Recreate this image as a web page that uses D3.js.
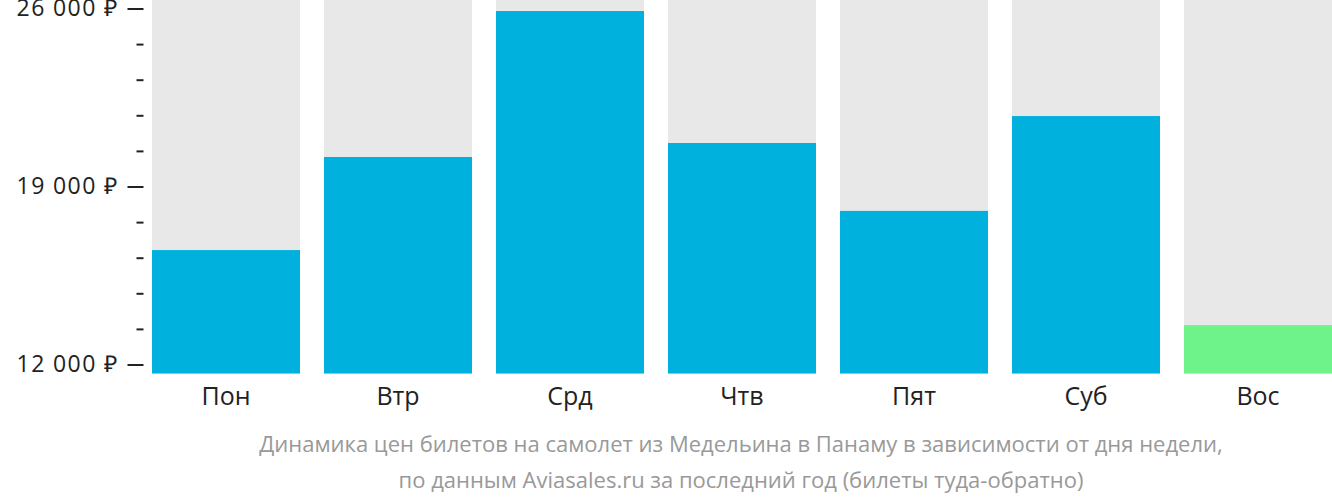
<!DOCTYPE html>
<html>
<head>
<meta charset="utf-8">
<script src="https://cdn.jsdelivr.net/npm/d3@7"></script>
<style>
  body { margin: 0; background: #fff; }
  text { font-family: "Open Sans", sans-serif; }
</style>
</head>
<body>
<script>
// Data
const days = ["Пон", "Втр", "Срд", "Чтв", "Пят", "Суб", "Вос"];
const prices = [16500, 20160, 25900, 20710, 18040, 21770, 13550];
const cheapestDay = "Вос";
const majorTicks = [12000, 19000, 26000];
const minorTicks = [13400, 14800, 16200, 17600, 20400, 21800, 23200, 24600];
const captionLines = [
    "Динамика цен билетов на самолет из Медельина в Панаму в зависимости от дня недели,",
    "по данным Aviasales.ru за последний год (билеты туда-обратно)"
];

//Sizes
const width = 1332,
    height = 502,
    plotBottom = 373.5;

const svg = d3.select("body")
    .append("svg")
    .attr("width", width)
    .attr("height", height);

//Scales
const x = d3.scaleBand()
    .domain(days)
    .range([140, 1344])
    .paddingInner(24 / 172)
    .paddingOuter(12 / 172);

const y = d3.scaleLinear()
    .domain([11646, 26334])
    .range([plotBottom, 0]);

//Grey background bars
svg.append("g")
    .selectAll("rect")
    .data(days)
    .join("rect")
    .attr("x", d => x(d))
    .attr("y", 0)
    .attr("width", x.bandwidth())
    .attr("height", plotBottom)
    .attr("fill", "#e8e8e8");

//Value bars
svg.append("g")
    .selectAll("rect")
    .data(days.map((d, i) => ({day: d, price: prices[i]})))
    .join("rect")
    .attr("x", d => x(d.day))
    .attr("y", d => y(d.price))
    .attr("width", x.bandwidth())
    .attr("height", d => plotBottom - y(d.price))
    .attr("fill", d => d.day === cheapestDay ? "#6ef28a" : "#00b0dd");

//Y axis, major ticks with labels
const fmt = v => d3.format(",")(v).replace(",", " ") + " ₽";

svg.append("g")
    .attr("transform", "translate(143.5,0)")
    .call(d3.axisLeft(y).tickValues(majorTicks).tickSize(16).tickPadding(9).tickFormat(fmt))
    .call(g => g.select(".domain").remove())
    .call(g => g.selectAll("line").attr("stroke", "#222").attr("stroke-width", 2))
    .call(g => g.selectAll("text").attr("fill", "#222").attr("font-size", 23)
        .attr("letter-spacing", 1.4)
        .style("font-family", "'Open Sans', sans-serif"));

//Y axis, minor ticks
svg.append("g")
    .attr("transform", "translate(143.5,0)")
    .call(d3.axisLeft(y).tickValues(minorTicks).tickSize(7).tickFormat(""))
    .call(g => g.select(".domain").remove())
    .call(g => g.selectAll("line").attr("stroke", "#222").attr("stroke-width", 2));

//X axis labels
svg.append("g")
    .attr("transform", `translate(0,${plotBottom})`)
    .call(d3.axisBottom(x).tickSize(0).tickPadding(13.5))
    .call(g => g.select(".domain").remove())
    .call(g => g.selectAll("text").attr("fill", "#222").attr("font-size", 25)
        .style("font-family", "'Open Sans', sans-serif"));

//Caption
svg.append("g")
    .selectAll("text")
    .data(captionLines)
    .join("text")
    .attr("x", 741)
    .attr("y", (d, i) => 452 + i * 36)
    .attr("text-anchor", "middle")
    .attr("fill", "#999")
    .attr("font-size", 22)
    .text(d => d);
</script>
</body>
</html>
